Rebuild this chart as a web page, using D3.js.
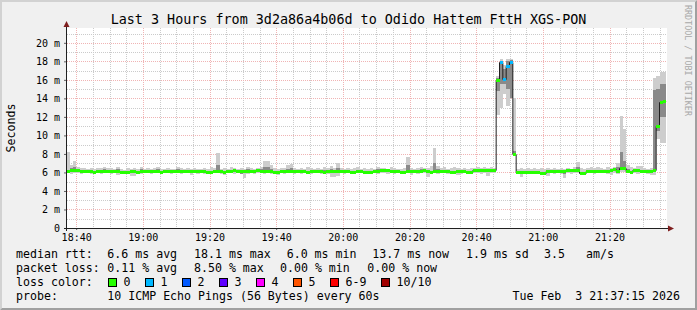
<!DOCTYPE html>
<html>
<head>
<meta charset="utf-8">
<script src="https://cdn.jsdelivr.net/npm/d3@7"></script>
<style>
body { margin: 0; background: #f0f0f0; }
text { font-family: "DejaVu Sans Mono", monospace; fill: #000; }
</style>
</head>
<body>
<div id="chart"></div>
<script>
// chart texts
var titleText = "Last 3 Hours from 3d2a86a4b06d to Odido Hattem FttH XGS-PON";
var yLabel = "Seconds";
var watermark = "RRDTOOL / TOBI OETIKER";

// time window (3 hours) and first rrd sample
var startTime = new Date(2026, 1, 3, 18, 37, 15);
var endTime = new Date(2026, 1, 3, 21, 37, 15);
var firstSample = new Date(2026, 1, 3, 18, 38, 0);
var yMax = 21.6;
var yTicks = [0, 2, 4, 6, 8, 10, 12, 14, 16, 18, 20];

// median rtt per minute (ms), 18:38 .. 21:37
var median = [
  6.2,6.3,6.3,6.3,6.2,6.2,6.2,6.2,6.1,6.2,6.2,6.2,6.2,6.2,6.2,6.2,6.1,6.0,6.1,6.2,
  6.2,6.1,6.2,6.2,6.2,6.2,6.2,6.2,6.1,6.2,6.2,6.2,6.2,6.2,6.2,6.2,6.2,6.2,6.2,6.2,
  6.2,6.2,6.1,6.1,6.2,6.2,6.2,6.0,6.2,6.2,6.3,6.2,6.2,6.2,6.2,6.2,6.2,6.3,6.2,6.2,
  6.2,6.2,6.0,6.0,6.2,6.2,6.2,6.2,6.2,6.2,6.2,6.2,6.1,6.2,6.2,6.2,6.2,6.1,6.2,6.2,
  6.2,6.2,6.2,6.2,6.2,6.0,6.0,6.2,6.2,6.1,6.1,6.1,6.2,6.2,6.3,6.3,6.3,6.2,6.2,6.2,
  6.0,6.0,6.2,6.2,6.2,6.2,6.2,6.3,6.2,6.0,6.2,6.2,6.2,6.2,6.2,6.1,6.1,6.2,6.2,6.2,
  6.0,6.0,6.3,6.3,6.3,6.3,6.3,6.3,6.3,16.0,17.9,16.1,17.5,17.9,8.0,6.0,6.0,6.1,6.1,6.1,
  6.1,6.1,5.9,5.9,6.2,6.2,6.2,6.2,6.2,6.2,6.3,6.3,6.3,6.3,5.9,5.9,6.2,6.2,6.2,6.2,
  6.2,6.2,6.2,6.3,6.4,6.2,6.5,6.5,6.2,6.1,6.3,6.3,6.2,6.2,6.2,6.2,6.3,11.0,13.6,13.7
];
// fastest ping per minute (ms)
var smokeLo = [
  5.9,5.8,5.9,5.9,5.8,5.9,5.9,5.8,5.9,5.9,5.8,5.9,5.9,5.8,5.9,5.7,5.9,5.8,5.9,5.6,
  5.6,5.9,5.8,5.9,5.9,5.8,5.9,5.9,5.8,5.9,5.9,5.8,5.9,5.9,5.8,5.9,5.9,5.7,5.9,5.8,
  5.9,5.8,5.9,5.8,5.9,5.9,5.8,5.7,5.9,5.9,5.8,5.9,5.9,5.4,5.8,5.9,5.8,5.9,5.9,5.8,
  5.9,5.8,5.8,5.7,5.9,5.8,5.9,5.9,5.8,5.9,5.8,5.9,5.9,5.8,5.9,5.9,5.8,5.9,5.8,5.5,
  5.5,5.6,5.9,5.8,5.9,5.8,5.8,5.9,5.9,5.8,5.8,5.9,5.9,5.8,5.9,5.9,5.8,5.9,5.8,5.9,
  5.8,5.9,5.9,5.7,5.9,5.8,5.9,5.9,5.5,5.8,5.9,5.8,5.9,5.9,5.8,5.9,5.9,5.7,5.8,5.9,
  5.8,5.8,5.9,5.9,5.8,5.9,5.6,5.9,5.9,12.2,13.0,14.5,13.2,14.0,7.8,5.8,5.5,5.8,5.9,5.8,
  5.8,5.9,5.7,5.8,5.6,5.9,5.8,5.9,5.8,5.4,5.9,5.8,5.9,5.9,5.8,5.8,5.9,5.9,5.8,5.9,
  5.9,5.9,5.8,5.7,5.9,5.8,6.0,6.0,5.9,5.8,5.9,5.8,5.9,5.9,5.8,5.7,5.7,9.6,9.2,9.2
];
// slowest ping per minute (ms)
var smokeHi = [
  8.2,6.8,7.2,6.6,6.5,6.5,6.4,6.5,6.4,6.5,6.5,6.6,6.5,6.5,6.4,6.6,6.4,6.3,6.5,6.4,
  6.5,6.4,6.6,6.4,6.5,6.4,6.5,6.6,6.4,6.4,6.5,6.4,6.4,6.6,6.5,6.4,6.5,6.4,6.5,6.4,
  6.4,6.5,6.4,6.6,6.5,8.1,6.4,6.5,6.4,6.6,6.5,6.4,6.5,6.4,6.6,6.5,6.4,6.5,6.6,7.2,
  7.2,6.8,6.5,6.4,6.5,6.5,6.8,6.9,6.5,6.4,6.5,6.4,6.6,6.5,6.4,6.5,6.4,6.6,6.5,6.7,
  6.5,7.0,6.5,6.4,6.5,6.4,6.5,6.6,6.4,6.5,6.4,6.5,6.4,6.6,6.5,6.5,6.4,6.6,6.5,6.4,
  6.4,6.5,7.7,6.5,6.4,6.5,6.6,6.5,6.5,6.7,8.6,6.7,6.5,6.6,6.4,6.5,6.6,6.5,6.4,6.5,
  6.4,6.5,6.5,6.6,6.5,6.6,6.5,6.6,6.5,16.4,18.3,17.6,18.3,18.3,14.0,6.4,6.5,6.4,6.5,6.4,
  6.5,6.4,6.5,6.4,6.5,6.4,6.5,6.4,6.5,6.4,6.5,6.4,6.6,7.1,6.5,6.4,6.5,6.6,6.5,6.6,
  6.5,6.4,6.6,6.5,6.6,7.0,12.1,10.7,6.8,6.6,6.5,6.7,6.7,6.5,6.4,6.5,16.2,16.4,16.9,16.9
];
// inner (darker) part of the smoke per minute (ms)
var smokeQ1 = [
  6.1,6.1,6.2,6.1,6.1,6.1,6.1,6.1,6.0,6.1,6.1,6.1,6.1,6.1,6.1,6.0,6.0,5.8,6.0,6.1,
  6.0,5.9,6.1,6.1,6.1,6.1,6.1,6.1,6.0,6.1,6.1,6.1,6.1,6.1,6.0,6.1,6.1,5.9,6.1,6.1,
  6.1,6.1,5.9,6.0,6.1,6.1,6.1,5.9,6.1,6.1,6.1,6.1,5.8,6.0,6.1,6.1,6.1,6.1,6.1,6.1,
  6.1,6.1,5.9,5.9,6.1,6.1,6.1,6.1,6.1,6.1,6.1,6.1,6.0,6.1,6.1,6.1,6.1,6.0,6.1,6.0,
  6.0,6.0,6.1,6.1,6.1,5.9,5.9,6.1,6.1,6.0,6.0,6.0,6.1,6.1,6.2,6.2,6.2,6.1,6.1,6.1,
  5.9,5.9,6.1,6.1,6.1,6.1,6.1,6.1,6.0,5.9,6.1,6.1,6.1,6.1,6.1,6.0,6.0,6.1,6.1,6.1,
  5.9,5.9,6.2,6.2,6.2,6.2,6.0,6.2,6.2,14.8,15.5,15.5,15.0,14.0,7.9,5.9,5.9,6.0,6.0,6.0,
  6.0,6.0,5.8,5.8,6.1,6.1,6.1,6.1,6.0,5.8,6.2,6.2,6.2,6.2,5.8,5.8,6.1,6.1,6.1,6.1,
  6.1,6.1,6.1,6.2,6.3,6.1,6.3,6.3,6.1,6.0,6.2,6.2,6.1,6.1,6.1,6.1,6.1,10.5,12.0,12.0
];
var smokeQ3 = [
  6.3,6.5,6.6,6.4,6.3,6.3,6.3,6.3,6.2,6.3,6.3,6.4,6.3,6.3,6.3,6.4,6.2,6.1,6.2,6.3,
  6.3,6.2,6.4,6.3,6.3,6.3,6.3,6.4,6.2,6.3,6.3,6.3,6.3,6.4,6.3,6.3,6.3,6.3,6.3,6.3,
  6.3,6.3,6.2,6.2,6.3,6.8,6.3,6.1,6.3,6.3,6.4,6.3,6.3,6.3,6.4,6.3,6.3,6.4,6.4,6.6,
  6.6,6.4,6.1,6.1,6.3,6.3,6.4,6.5,6.3,6.3,6.3,6.3,6.2,6.3,6.3,6.3,6.3,6.3,6.3,6.4,
  6.3,6.5,6.3,6.3,6.3,6.1,6.1,6.3,6.3,6.2,6.2,6.2,6.3,6.4,6.4,6.4,6.4,6.3,6.3,6.3,
  6.1,6.1,6.8,6.3,6.3,6.3,6.4,6.4,6.3,6.2,7.0,6.4,6.3,6.3,6.3,6.2,6.2,6.3,6.3,6.3,
  6.1,6.1,6.4,6.4,6.4,6.4,6.4,6.4,6.4,16.2,18.0,17.2,18.0,18.1,8.3,6.1,6.1,6.2,6.2,6.2,
  6.2,6.2,6.0,6.0,6.3,6.3,6.3,6.3,6.3,6.3,6.4,6.4,6.4,6.6,6.0,6.0,6.3,6.3,6.3,6.3,
  6.3,6.3,6.3,6.4,6.5,6.6,8.2,7.2,6.4,6.2,6.4,6.4,6.3,6.3,6.3,6.3,14.9,15.0,15.5,15.5
];
// minutes with lost pings (time, pings lost of 10); all others 0
var lossSamples = [["20:48", 1], ["20:49", 1], ["20:50", 1], ["20:51", 1]];

// loss color legend
var lossLabels = ["0", "1", "2", "3", "4", "5", "6-9", "10/10"];
var lossColors = ["#26ff00", "#00b8ff", "#0059ff", "#5e00ff", "#ff00ff", "#ff5500", "#ff0000", "#a10000"];

// legend texts
var statsMedian = ["median rtt:", "6.6 ms avg", "18.1 ms max", "6.0 ms min", "13.7 ms now", "1.9 ms sd", "3.5", "am/s"];
var statsLoss = ["packet loss:", "0.11 % avg", "8.50 % max", "0.00 % min", "0.00 % now"];
var probeText = ["probe:", "10 ICMP Echo Pings (56 Bytes) every 60s"];
var dateText = "Tue Feb  3 21:37:15 2026";

// ---------------------------------------------------------------
var W = 697, H = 310;
var plot = {left: 67, right: 667, top: 28, bottom: 228};

var svg = d3.select("#chart").append("svg")
    .attr("width", W)
    .attr("height", H);

// background and 3d frame
svg.append("rect").attr("width", W).attr("height", H).attr("fill", "#f0f0f0");
svg.append("path").attr("d", "M0,0H697L695,2H2V308L0,310Z").attr("fill", "#d2d2d2");
svg.append("path").attr("d", "M697,0V310H0L2,308H695V2Z").attr("fill", "#a0a0a0");

// canvas
svg.append("rect")
    .attr("x", plot.left).attr("y", plot.top)
    .attr("width", plot.right - plot.left).attr("height", plot.bottom - plot.top)
    .attr("fill", "#ffffff");

var x = d3.scaleTime().domain([startTime, endTime]).range([plot.left, plot.right]);
var y = d3.scaleLinear().domain([0, yMax]).range([plot.bottom, plot.top]);

function px(v) { return Math.round(v) + 0.5; }

// grid
var grid = svg.append("g");
var minorX = d3.timeMinute.every(5).range(startTime, endTime).filter(function (d) { return d.getMinutes() % 20 !== 0; });
var majorX = d3.timeMinute.every(20).range(startTime, endTime);
var minorY = d3.range(1, yMax, 1).filter(function (d) { return d % 2 !== 0; });
var majorY = yTicks.filter(function (d) { return d > 0; });

grid.selectAll(".vmin").data(minorX).enter().append("line")
    .attr("x1", function (d) { return px(x(d)); }).attr("x2", function (d) { return px(x(d)); })
    .attr("y1", plot.top).attr("y2", plot.bottom)
    .attr("stroke", "#cbcbcb").attr("stroke-dasharray", "1,1");
grid.selectAll(".hmin").data(minorY).enter().append("line")
    .attr("y1", function (d) { return px(y(d)); }).attr("y2", function (d) { return px(y(d)); })
    .attr("x1", plot.left).attr("x2", plot.right)
    .attr("stroke", "#cbcbcb").attr("stroke-dasharray", "1,1");
grid.selectAll(".vmaj").data(majorX).enter().append("line")
    .attr("x1", function (d) { return px(x(d)); }).attr("x2", function (d) { return px(x(d)); })
    .attr("y1", plot.top).attr("y2", plot.bottom)
    .attr("stroke", "#f0b4b4").attr("stroke-dasharray", "1,1");
grid.selectAll(".hmaj").data(majorY).enter().append("line")
    .attr("y1", function (d) { return px(y(d)); }).attr("y2", function (d) { return px(y(d)); })
    .attr("x1", plot.left).attr("x2", plot.right)
    .attr("stroke", "#f0b4b4").attr("stroke-dasharray", "1,1");

// samples
var lossByTime = {};
lossSamples.forEach(function (d) { lossByTime[d[0]] = d[1]; });
var fmt = d3.timeFormat("%H:%M");
var samples = median.map(function (m, i) {
    var t = d3.timeMinute.offset(firstSample, i);
    return {
        t: t,
        x0: Math.max(x(d3.timeMinute.offset(t, -1)), plot.left),
        x1: x(t),
        med: m, lo: smokeLo[i], hi: smokeHi[i], q1: smokeQ1[i], q3: smokeQ3[i],
        loss: lossByTime[fmt(t)] || 0
    };
});

// smoke
var smoke = svg.append("g").attr("shape-rendering", "crispEdges");
smoke.selectAll(".outer").data(samples).enter().append("rect")
    .attr("x", function (d) { return d.x0; })
    .attr("width", function (d) { return d.x1 - d.x0; })
    .attr("y", function (d) { return y(d.hi); })
    .attr("height", function (d) { return y(d.lo) - y(d.hi); })
    .attr("fill", "#cdcdcd");
smoke.selectAll(".inner").data(samples).enter().append("rect")
    .attr("x", function (d) { return d.x0; })
    .attr("width", function (d) { return d.x1 - d.x0; })
    .attr("y", function (d) { return y(d.q3); })
    .attr("height", function (d) { return y(d.q1) - y(d.q3); })
    .attr("fill", "#8a8a8a");

// median line (thin black, steps)
var linePts = [[samples[0].x0, samples[0].med]].concat(samples.map(function (d) { return [d.x1, d.med]; }));
svg.append("path")
    .datum(linePts)
    .attr("d", d3.line().x(function (d) { return d[0]; }).y(function (d) { return px(y(d[1])); }).curve(d3.curveStepBefore))
    .attr("fill", "none").attr("stroke", "#202020").attr("stroke-width", 1);

// median colored by loss
function lossColor(l) {
    if (l >= 10) return lossColors[7];
    if (l >= 6) return lossColors[6];
    return lossColors[l];
}
svg.append("g").attr("shape-rendering", "crispEdges")
    .selectAll("rect").data(samples).enter().append("rect")
    .attr("x", function (d) { return d.x0; })
    .attr("width", function (d) { return d.x1 - d.x0; })
    .attr("y", function (d) { return Math.round(y(d.med)) - 1; })
    .attr("height", 3)
    .attr("fill", function (d) { return lossColor(d.loss); });

// axes
var xAxis = svg.append("g")
    .attr("transform", "translate(0," + plot.bottom + ")")
    .call(d3.axisBottom(x).tickValues(majorX).tickFormat(fmt).tickSize(2).tickPadding(4));
var yAxis = svg.append("g")
    .attr("transform", "translate(" + plot.left + ",0)")
    .call(d3.axisLeft(y).tickValues(yTicks).tickSize(3).tickPadding(4)
        .tickFormat(function (d) { return d === 0 ? "0" : d + " m"; }));
[xAxis, yAxis].forEach(function (a) {
    a.select(".domain").remove();
    a.selectAll(".tick line").attr("stroke", "#606060");
    a.selectAll("text").style("font-family", "DejaVu Sans Mono").style("font-size", "10px").attr("fill", "#000");
});

svg.append("line")
    .attr("x1", plot.left - 3).attr("x2", plot.right + 3)
    .attr("y1", plot.bottom + 0.5).attr("y2", plot.bottom + 0.5)
    .attr("stroke", "#202020");
svg.append("line")
    .attr("x1", plot.left - 0.5).attr("x2", plot.left - 0.5)
    .attr("y1", plot.bottom + 3).attr("y2", plot.top - 3)
    .attr("stroke", "#202020");
svg.append("path")
    .attr("d", "M" + (plot.left - 0.5) + "," + (plot.top - 7) + "l-3,6h6z")
    .attr("fill", "#7f1f1f");
svg.append("path")
    .attr("d", "M" + (plot.right + 7) + "," + (plot.bottom + 0.5) + "l-6,-3v6z")
    .attr("fill", "#7f1f1f");

// title and labels
svg.append("text")
    .attr("x", 348.5).attr("y", 24)
    .attr("text-anchor", "middle")
    .style("font-size", "13.4px")
    .text(titleText);
svg.append("text")
    .attr("transform", "translate(14.5," + 128 + ") rotate(-90)")
    .attr("text-anchor", "middle")
    .style("font-size", "11.6px")
    .text(yLabel);
svg.append("text")
    .attr("transform", "translate(684.5,5) rotate(90)")
    .style("font-size", "8.4px")
    .style("fill", "#a8a8a8")
    .text(watermark);

// legend
var legend = svg.append("g").style("font-size", "11.6px");
var medX = [16, 107.3, 194, 286.7, 372.3, 466, 544, 586];
var lossX = [16, 107.3, 194, 280, 367.3];
legend.selectAll(".med").data(statsMedian).enter().append("text")
    .attr("x", function (d, i) { return medX[i]; }).attr("y", 258)
    .attr("xml:space", "preserve").text(function (d) { return d; });
legend.selectAll(".pl").data(statsLoss).enter().append("text")
    .attr("x", function (d, i) { return lossX[i]; }).attr("y", 272)
    .attr("xml:space", "preserve").text(function (d) { return d; });
legend.append("text").attr("x", 16).attr("y", 286).text("loss color:");
var boxX = [108.5, 145.5, 182.5, 219.5, 256.5, 293.5, 330.5, 381.5];
lossLabels.forEach(function (l, i) {
    legend.append("rect")
        .attr("x", boxX[i]).attr("y", 278.5).attr("width", 8).attr("height", 8)
        .attr("fill", lossColors[i]).attr("stroke", "#000").attr("stroke-width", 1);
    legend.append("text").attr("x", boxX[i] + 15).attr("y", 286).text(l);
});
legend.append("text").attr("x", 16).attr("y", 300).text(probeText[0]);
legend.append("text").attr("x", 107.3).attr("y", 300).text(probeText[1]);
legend.append("text").attr("x", 680).attr("y", 300).attr("text-anchor", "end")
    .attr("xml:space", "preserve").text(dateText);
</script>
</body>
</html>
